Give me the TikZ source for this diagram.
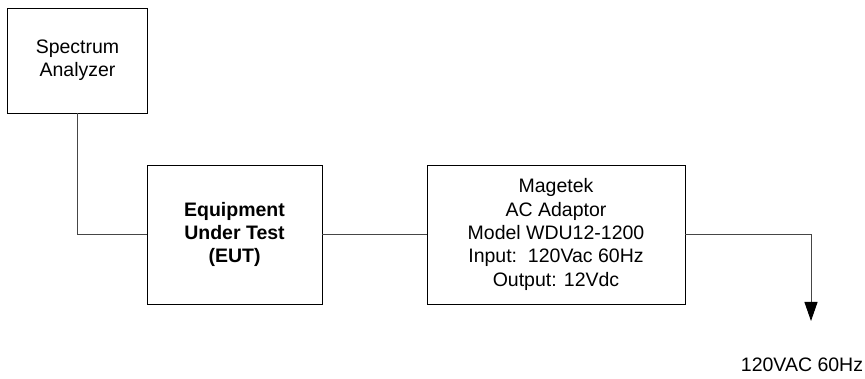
\documentclass[tikz,border=0pt]{standalone}
\usepackage{fontspec}
\setmainfont{Liberation Sans}
\usetikzlibrary{arrows.meta,positioning}
\tikzset{>=Latex}
\definecolor{wirecol}{RGB}{70,70,70}
\tikzset{blockbox/.style={draw,line width=0.9pt,align=center,inner sep=0pt,font=\fontsize{19.5}{23.3}\selectfont},
  wire/.style={line width=0.9pt,draw=wirecol}}

\begin{document}
\begin{tikzpicture}[x=1pt,y=-1pt]
    \useasboundingbox (0,0) rectangle (865,379);
    \node[blockbox,minimum width=140pt,minimum height=105pt] (sa) at (77.5,60.5) {Spectrum\\Analyzer};
    \node[blockbox,minimum width=175pt,minimum height=139pt,font=\fontsize{19.5}{23.3}\selectfont\bfseries] (eut) at (234.5,234.5) {Equipment\\Under Test\\(EUT)};
    \node[blockbox,minimum width=258pt,minimum height=139pt] (ada) at (556,234.5) {Magetek\\AC Adaptor\\Model WDU12-1200\\Input:\ \ 120Vac 60Hz\\Output: 12Vdc};
    \coordinate (corner) at (sa.south |- eut.west);
    \draw[wire] (sa.south) -- (corner) -- (eut.west);
    \draw[wire] (eut.east) -- (ada.west);
    \coordinate (drop) at (811,234.5);
    \coordinate (tip) at (811,321);
    \draw[wire,-{Triangle[width=13pt,length=19pt,color=black]}] (ada.east) -- (drop) -- (tip);
    \node[font=\fontsize{19.5}{23.3}\selectfont,inner sep=0pt] (mains) at (802,365) {120VAC 60Hz};
\end{tikzpicture}
\end{document}
